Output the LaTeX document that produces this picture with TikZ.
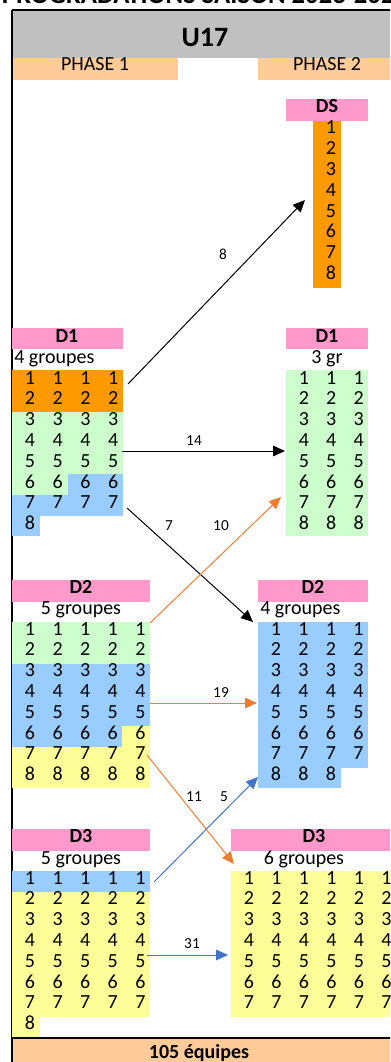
\documentclass[tikz,border=0pt]{standalone}
\usepackage{fontspec}
\setmainfont{Carlito}
\usetikzlibrary{arrows.meta}

\definecolor{grisent}{HTML}{C0C0C0}
\definecolor{peche}{HTML}{FFCC99}
\definecolor{rose}{HTML}{FF99CC}
\definecolor{orangeds}{HTML}{FF9900}
\definecolor{vertd1}{HTML}{CCFFCC}
\definecolor{bleud2}{HTML}{99CCFF}
\definecolor{jauned3}{HTML}{FFFF99}
\definecolor{flecheorange}{HTML}{ED7D31}
\definecolor{flechebleue}{HTML}{4472C4}

\begin{document}
\begin{tikzpicture}[%
      x=0.75pt, y=-0.75pt,
      chiffre/.style={font=\fontsize{15}{18}\selectfont, anchor=base, inner sep=0pt},
      entete/.style={font=\fontsize{15}{18}\selectfont\bfseries, anchor=base, inner sep=0pt},
      nombre/.style={font=\fontsize{11.5}{14}\selectfont, inner sep=0pt},
      fleche/.style={line width=0.75pt, -{Triangle[length=9pt,width=8pt]}},
      ]
      \useasboundingbox (0,0) rectangle (390,1062);
      \clip (0,0) rectangle (390,1062);

      % titre coupe
      \node [font=\fontsize{20}{24}\selectfont\bfseries, anchor=base, inner sep=0pt] (titre) at (205,4) {PROGRADATIONS SAISON 2023-2024};

      % en-tete
      \fill [color=grisent] (12,10) rectangle (398,58);
      \fill [color=peche] (12,58) rectangle (178,80);
      \fill [color=peche] (258,58) rectangle (398,80);
      \fill [color=peche] (12,1039) rectangle (398,1062);
      \draw [color=black, line width=1.5pt] (12,10) -- (398,10);
      \draw [color=black, line width=1.5pt] (12,10) -- (12,1062);
      \draw [color=black, line width=1.5pt] (12,1038) -- (398,1038);
      \node [font=\fontsize{21}{25}\selectfont\bfseries, anchor=base, inner sep=0pt] (u17) at (205,47) {U17};
      \node [chiffre] (phase1) at (95,71) {PHASE 1};
      \node [chiffre] (phase2) at (327,71) {PHASE 2};
      \node [entete] (total) at (199,1058) {105 équipes};

      % DS
      \fill [color=rose] (286,99) rectangle (368,121);
      \fill [color=orangeds] (313,121) rectangle (341,288);
      \node [entete] (ds) at (327,113) {DS};
      \foreach \r in {1,...,8}
        \node [chiffre] (ds-\r) at (331,{134+20.8*(\r-1)}) {\r};

      % D1 phase 1
      \fill [color=rose] (12,328) rectangle (123,349);
      \fill [color=orangeds] (12,370) rectangle (123,411.6);
      \fill [color=vertd1] (12,411.6) rectangle (123,474);
      \fill [color=vertd1] (12,474) rectangle (67.5,494.8);
      \fill [color=bleud2] (67.5,474) rectangle (123,494.8);
      \fill [color=bleud2] (12,494.8) rectangle (123,515.6);
      \fill [color=bleud2] (12,515.6) rectangle (40,536.4);
      \node [entete] (d1g) at (67,342) {D1};
      \node [chiffre, anchor=base west] (d1gnb) at (14,363) {4 groupes};
      \foreach \r in {1,...,7} \foreach \c in {1,...,4}
        \node [chiffre] (d1g-\r-\c) at ({30+27.75*(\c-1)},{384+20.8*(\r-1)}) {\r};
      \node [chiffre] (d1g-8-1) at (30,{384+20.8*7}) {8};

      % D1 phase 2
      \fill [color=rose] (286,328) rectangle (368,349);
      \fill [color=vertd1] (286,370) rectangle (368,536.4);
      \node [entete] (d1d) at (327,342) {D1};
      \node [chiffre] (d1dnb) at (327,363) {3 gr};
      \foreach \r in {1,...,8} \foreach \c in {1,...,3}
        \node [chiffre] (d1d-\r-\c) at ({304+27.3*(\c-1)},{384+20.8*(\r-1)}) {\r};

      % D2 phase 1
      \fill [color=rose] (12,580) rectangle (150,602);
      \fill [color=vertd1] (12,622) rectangle (150,663.6);
      \fill [color=bleud2] (12,663.6) rectangle (150,726);
      \fill [color=bleud2] (12,726) rectangle (122.4,746.8);
      \fill [color=jauned3] (122.4,726) rectangle (150,746.8);
      \fill [color=jauned3] (12,746.8) rectangle (150,788.4);
      \node [entete] (d2g) at (81,593) {D2};
      \node [chiffre] (d2gnb) at (81,614) {5 groupes};
      \foreach \r in {1,...,8} \foreach \c in {1,...,5}
        \node [chiffre] (d2g-\r-\c) at ({30+27.6*(\c-1)},{635+20.8*(\r-1)}) {\r};

      % D2 phase 2
      \fill [color=rose] (258,580) rectangle (368,602);
      \fill [color=bleud2] (258,622) rectangle (368,767.6);
      \fill [color=bleud2] (258,767.6) rectangle (340.5,788.4);
      \node [entete] (d2d) at (313,593) {D2};
      \node [chiffre, anchor=base west] (d2dnb) at (260,614) {4 groupes};
      \foreach \r in {1,...,7} \foreach \c in {1,...,4}
        \node [chiffre] (d2d-\r-\c) at ({276+27.5*(\c-1)},{635+20.8*(\r-1)}) {\r};
      \foreach \c in {1,...,3}
        \node [chiffre] (d2d-8-\c) at ({276+27.5*(\c-1)},{635+20.8*7}) {8};

      % D3 phase 1
      \fill [color=rose] (12,829) rectangle (150,851);
      \fill [color=bleud2] (12,871) rectangle (150,891.8);
      \fill [color=jauned3] (12,891.8) rectangle (150,1016.6);
      \fill [color=jauned3] (12,1016.6) rectangle (39.6,1037);
      \node [entete] (d3g) at (81,842) {D3};
      \node [chiffre] (d3gnb) at (81,864) {5 groupes};
      \foreach \r in {1,...,7} \foreach \c in {1,...,5}
        \node [chiffre] (d3g-\r-\c) at ({30+27.6*(\c-1)},{884+20.8*(\r-1)}) {\r};
      \node [chiffre] (d3g-8-1) at (30,{884+20.8*7}) {8};

      % D3 phase 2
      \fill [color=rose] (231,829) rectangle (398,851);
      \fill [color=jauned3] (231,871) rectangle (398,1016.6);
      \node [entete] (d3d) at (314,842) {D3};
      \node [chiffre] (d3dnb) at (304,864) {6 groupes};
      \foreach \r in {1,...,7} \foreach \c in {1,...,6}
        \node [chiffre] (d3d-\r-\c) at ({249+27.5*(\c-1)},{884+20.8*(\r-1)}) {\r};

      % fleches
      \coordinate (d1g-haut) at (128,384);
      \coordinate (d1g-milieu) at (122,451);
      \coordinate (d1g-bas) at (127,508);
      \coordinate (ds-entree) at (305,200);
      \coordinate (d1d-entree) at (285,451);
      \coordinate (d1d-bas) at (281,497);
      \coordinate (d2d-haut) at (253,622);
      \coordinate (d2g-haut) at (150,623);
      \coordinate (d2g-milieu) at (150,703);
      \coordinate (d2g-bas) at (147,755);
      \coordinate (d2d-entree) at (257,703);
      \coordinate (d2d-bas) at (258,777);
      \coordinate (d3g-haut) at (154,882);
      \coordinate (d3g-milieu) at (147,955);
      \coordinate (d3d-haut) at (234,864);
      \coordinate (d3d-entree) at (228,955);

      \draw [fleche, color=black] (d1g-haut) -- (ds-entree);
      \draw [fleche, color=black] (d1g-milieu) -- (d1d-entree);
      \draw [fleche, color=black] (d1g-bas) -- (d2d-haut);
      \draw [fleche, color=flecheorange] (d2g-haut) -- (d1d-bas);
      \draw [fleche, color=flecheorange] (d2g-milieu) -- (d2d-entree);
      \draw [fleche, color=flecheorange] (d2g-bas) -- (d3d-haut);
      \draw [fleche, color=flechebleue] (d3g-haut) -- (d2d-bas);
      \draw [fleche, color=flechebleue] (d3g-milieu) -- (d3d-entree);

      \node [nombre] (n8) at (223,254) {8};
      \node [nombre] (n14) at (194,441) {14};
      \node [nombre] (n7) at (169,526) {7};
      \node [nombre] (n10) at (221,526) {10};
      \node [nombre] (n19) at (221,693) {19};
      \node [nombre] (n11) at (194,797) {11};
      \node [nombre] (n5) at (224,797) {5};
      \node [nombre] (n31) at (192,944) {31};
      \end{tikzpicture}
\end{document}
